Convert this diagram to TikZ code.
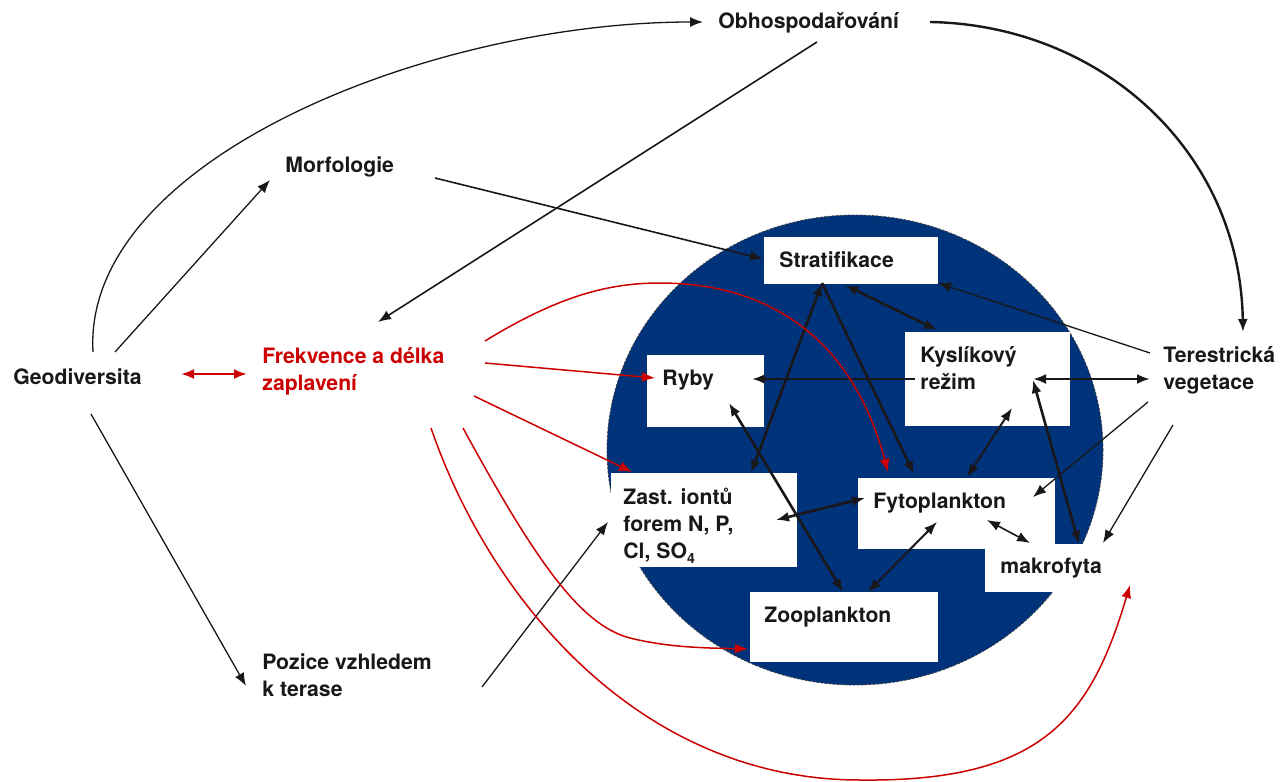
\documentclass[tikz,border=0pt]{standalone}
\usepackage{fontspec}
\setmainfont{TeX Gyre Heros}
\usetikzlibrary{arrows.meta}
\definecolor{navy}{RGB}{0,51,122}
\definecolor{fred}{RGB}{204,0,0}
\definecolor{ink}{RGB}{26,23,27}
\begin{document}
\begin{tikzpicture}[x=0.5pt,y=-0.5pt,
  lbl/.style={font=\fontsize{10.6}{13.5}\selectfont\bfseries, text=ink, inner sep=0pt, anchor=base west, align=left},
  rlbl/.style={lbl, text=fred},
  wbox/.style={fill=white, draw=none, anchor=north west, inner sep=0pt},
  ar/.style={draw=ink, line width=#1, -{Latex[length=6.5pt,width=5pt]}},
  dar/.style={draw=ink, line width=#1, {Latex[length=6.5pt,width=5pt]}-{Latex[length=6.5pt,width=5pt]}},
  rar/.style={draw=fred, line width=#1, -{Latex[length=6.5pt,width=5pt]}},
  rdar/.style={draw=fred, line width=#1, {Latex[length=6.5pt,width=5pt]}-{Latex[length=6.5pt,width=5pt]}},
]
\useasboundingbox (0,0) rectangle (1281,782);

% lake
\fill[navy] (855,450) ellipse [x radius=124pt, y radius=117.5pt];
\draw[black!75, line width=0.4pt, dash pattern=on 1.2pt off 0.8pt] (855,450) ellipse [x radius=124pt, y radius=117.5pt];

% boxes
\node[wbox, minimum width=87pt, minimum height=23.5pt] (stratbox) at (764,237) {};
\node[wbox, minimum width=58.5pt, minimum height=36pt] (rybybox) at (647,355) {};
\node[wbox, minimum width=82.5pt, minimum height=47pt] (kyslbox) at (905,332) {};
\node[wbox, minimum width=93pt, minimum height=47pt] (zastbox) at (611,473) {};
\node[wbox, minimum width=98.5pt, minimum height=35.5pt] (fytobox) at (858,478) {};
\node[wbox, minimum width=62.5pt, minimum height=24pt] (makrobox) at (985,544) {};
\node[wbox, minimum width=94pt, minimum height=35pt] (zoobox) at (750,592) {};

% labels (multi-line: anchor at baseline of last line)
\node[lbl] (obh) at (718,28) {Obhospodařování};
\node[lbl] (morf) at (285,172) {Morfologie};
\node[lbl] (geo) at (13,384) {Geodiversita};
\node[rlbl] (frek) at (262,390) {Frekvence a délka\\zaplavení};
\node[lbl] (poz) at (262,696) {Pozice vzhledem\\k terase};
\node[lbl] (ter) at (1163,389) {Terestrická\\vegetace};
\node[lbl] (strat) at (779,267) {Stratifikace};
\node[lbl] (ryby) at (662,385) {Ryby};
\node[lbl] (kysl) at (920,389) {Kyslíkový\\režim};
\node[lbl] (zast) at (623,558) {Zast. iontů\\forem N, P,\\Cl, SO\raisebox{-0.45ex}{\fontsize{7}{7}\selectfont 4}};
\node[lbl] (fyto) at (873,508) {Fytoplankton};
\node[lbl] (makro) at (1000,573) {makrofyta};
\node[lbl] (zoo) at (764,622) {Zooplankton};

% outer black connectors
\draw[ar=0.65pt] (93,352) .. controls (82,160) and (430,22) .. (703,22);
\draw[ar=0.65pt] (115,352) -- (270,180);
\draw[ar=0.65pt] (91,414) -- (246,686);
\draw[rdar=1.1pt] (181,374) -- (247,374);
\draw[ar=0.8pt] (817,42) -- (378,322);
\draw[ar=1.2pt] (930,22) .. controls (1100,25) and (1240,150) .. (1243,332);
\draw[ar=0.8pt] (435,178) -- (763,259);
\draw[ar=0.65pt] (1150,353) -- (938,283);
\draw[dar=1.3pt] (1150,379) -- (1033,379);
\draw[ar=0.65pt] (1148,402) -- (1033,497);
\draw[ar=0.65pt] (1173,425) -- (1103,543);
\draw[ar=0.65pt] (482,687) -- (608,522);

% inner connectors
\draw[dar=1.3pt] (845,285) -- (937,330);
\draw[ar=1.3pt] (915,379) -- (752,379);
\draw[dar=1.3pt] (822,283) -- (751,473);
\draw[ar=1.3pt] (822,283) -- (914,474);
\draw[dar=1.3pt] (729,403) -- (843,592);
\draw[dar=1.0pt] (1012,408) -- (967,477);
\draw[dar=1.3pt] (1033,380) -- (1079,544);
\draw[dar=1.3pt] (865,498) -- (776,520);
\draw[dar=1.0pt] (937,522) -- (868,592);
\draw[dar=0.8pt] (987,520) -- (1030,543);

% red connectors
\draw[rar=0.75pt] (485,341) .. controls (560,295) and (610,283) .. (660,283)
  .. controls (760,283) and (850,330) .. (888,472);
\draw[rar=0.75pt] (485,363) -- (655,378);
\draw[rar=0.75pt] (474,396) -- (632,472);
\draw[rar=0.75pt] (463,428) .. controls (535,560) and (580,625) .. (630,638)
  .. controls (670,648) and (710,648) .. (748,649);
\draw[rar=0.75pt] (431,428) .. controls (490,600) and (640,780) .. (860,780)
  .. controls (1040,782) and (1090,720) .. (1130,585);
\end{tikzpicture}
\end{document}
